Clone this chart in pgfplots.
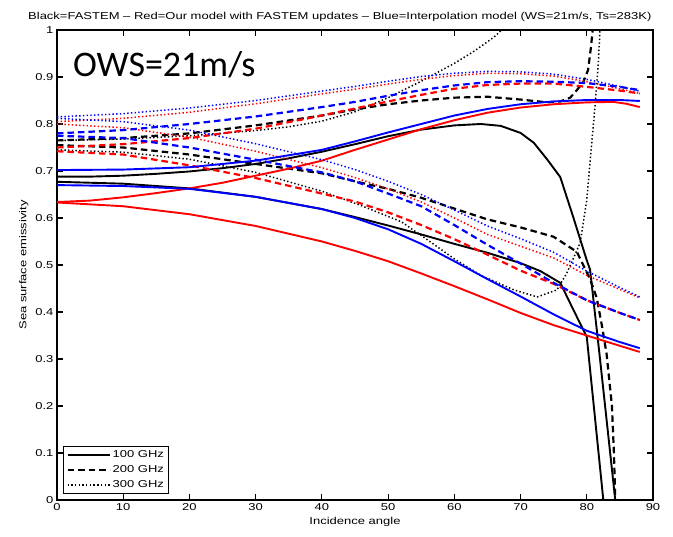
\documentclass[border=0pt]{standalone}
\usepackage{fontspec}
\setmainfont{Liberation Sans}[FakeStretch=1.3]
\newfontfamily\owsfont{Carlito}
\usepackage{pgfplots}
\pgfplotsset{compat=1.18}

\pgfplotsset{
  ghz100/.style={line width=1.9pt, solid},
  ghz200/.style={line width=2.2pt, dash pattern=on 6.5pt off 4pt},
  ghz300/.style={line width=1.5pt, dash pattern=on 1.4pt off 2.3pt},
}

\begin{document}
\begin{tikzpicture}
\begin{axis}[
  width=596pt, height=470pt, scale only axis,
  xmin=0, xmax=90, ymin=0, ymax=1,
  xtick={0,10,20,30,40,50,60,70,80,90},
  ytick={0,0.1,0.2,0.3,0.4,0.5,0.6,0.7,0.8,0.9,1},
  tick align=inside, major tick length=6pt,
  axis line style={line width=1.3pt},
  every tick/.style={black, line width=1.1pt},
  /pgf/number format/assume math mode=true,
  ticklabel style={font=\fontsize{10}{12}\selectfont},
  xlabel={Incidence angle}, ylabel={Sea surface emissivity},
  label style={font=\fontsize{10}{12}\selectfont},
  legend image code/.code={\draw[#1] (0pt,0pt) -- (42pt,0pt);},
  legend style={at={(0.01,0.013)}, anchor=south west, draw=black,
    line width=1pt, font=\fontsize{10}{11}\selectfont,
    cells={anchor=west}, inner xsep=3pt, inner ysep=2pt, row sep=2.5pt},
]
\addlegendimage{black, ghz100}\addlegendentry{100 GHz}
\addlegendimage{black, ghz200}\addlegendentry{200 GHz}
\addlegendimage{black, ghz300}\addlegendentry{300 GHz}

% ---------------- FASTEM (black) ----------------
\addplot[black, ghz100, forget plot] coordinates {(0,0.688) (5,0.688) (10,0.690) (15,0.694) (20,0.699) (25,0.706) (30,0.715) (35,0.727) (40,0.741) (45,0.757) (50,0.774) (55,0.788) (60,0.797) (64,0.800) (67,0.796) (70,0.781) (72,0.760) (74,0.725) (76,0.687) (78,0.600) (80,0.510) (80.5,0.490) (82,0.300) (84.3,0.0)};
\addplot[black, ghz100, forget plot] coordinates {(0,0.677) (10,0.673) (20,0.663) (30,0.645) (40,0.619) (45,0.602) (50,0.584) (55,0.565) (60,0.545) (65,0.526) (70,0.504) (73,0.487) (76,0.462) (78,0.404) (80,0.347) (82.5,0.0)};
\addplot[black, ghz200, forget plot] coordinates {(0,0.765) (10,0.770) (20,0.780) (30,0.797) (40,0.818) (45,0.831) (50,0.842) (55,0.850) (60,0.856) (65,0.858) (70,0.852) (74,0.846) (76,0.848) (77.5,0.856) (78.5,0.872) (79.5,0.890) (80.2,0.915) (80.6,0.960) (80.9,1.000) (81.1,1.040)};
\addplot[black, ghz200, forget plot] coordinates {(0,0.755) (10,0.750) (20,0.735) (30,0.715) (40,0.695) (45,0.678) (50,0.662) (55,0.643) (60,0.620) (65,0.597) (70,0.580) (75,0.560) (78.5,0.528) (80.5,0.470) (81.5,0.430) (82.3,0.370) (83,0.310) (83.8,0.200) (84.1,0.100) (84.3,0.0)};
\addplot[black, ghz300, forget plot] coordinates {(0,0.765) (10,0.768) (20,0.775) (30,0.786) (35,0.794) (40,0.806) (45,0.826) (50,0.856) (55,0.891) (60,0.929) (63,0.955) (66,0.985) (67,0.998) (68,1.012)};
\addplot[black, ghz300, forget plot] coordinates {(0,0.745) (10,0.740) (20,0.725) (30,0.697) (40,0.657) (46,0.626) (52,0.592) (56,0.553) (60,0.513) (64,0.478) (69,0.447) (72.5,0.432) (75.5,0.447) (77,0.483) (79,0.547) (80,0.638) (80.5,0.720) (81.2,0.830) (81.7,0.920) (82,1.000) (82.2,1.050)};

% ---------------- model with FASTEM updates (red) ----------------
\addplot[red, ghz100, forget plot] coordinates {(0,0.634) (5,0.637) (10,0.644) (15,0.653) (20,0.663) (25,0.675) (30,0.690) (35,0.705) (40,0.722) (45,0.745) (50,0.767) (55,0.789) (60,0.808) (65,0.824) (70,0.835) (75,0.842) (80,0.846) (84,0.847) (86,0.843) (88,0.836)};
\addplot[red, ghz100, forget plot] coordinates {(0,0.633) (10,0.625) (20,0.608) (30,0.583) (40,0.550) (45,0.530) (50,0.508) (55,0.482) (60,0.455) (65,0.427) (70,0.398) (75,0.372) (80,0.350) (85,0.328) (88,0.315)};
\addplot[red, ghz200, forget plot] coordinates {(0,0.750) (10,0.757) (20,0.770) (30,0.790) (40,0.818) (45,0.833) (50,0.848) (55,0.862) (60,0.875) (65,0.883) (70,0.886) (75,0.886) (80,0.879) (85,0.871) (88,0.865)};
\addplot[red, ghz200, forget plot] coordinates {(0,0.742) (10,0.735) (20,0.712) (30,0.685) (40,0.652) (45,0.635) (50,0.612) (55,0.585) (60,0.555) (65,0.522) (70,0.488) (75,0.460) (80,0.425) (85,0.398) (88,0.383)};
\addplot[red, ghz300, forget plot] coordinates {(0,0.805) (10,0.812) (20,0.825) (30,0.843) (40,0.864) (45,0.874) (50,0.885) (55,0.895) (60,0.903) (65,0.908) (70,0.907) (75,0.902) (80,0.890) (85,0.875) (88,0.865)};
\addplot[red, ghz300, forget plot] coordinates {(0,0.800) (10,0.792) (20,0.772) (30,0.742) (40,0.707) (45,0.686) (50,0.662) (55,0.634) (60,0.600) (65,0.565) (70,0.540) (75,0.515) (80,0.478) (85,0.448) (88,0.430)};

% ---------------- interpolation model (blue) ----------------
\addplot[blue, ghz100, forget plot] coordinates {(0,0.702) (10,0.703) (20,0.708) (30,0.722) (40,0.745) (45,0.763) (50,0.782) (55,0.800) (60,0.818) (65,0.832) (70,0.842) (75,0.848) (80,0.851) (85,0.851) (88,0.849)};
\addplot[blue, ghz100, forget plot] coordinates {(0,0.670) (10,0.668) (20,0.662) (30,0.645) (40,0.619) (45,0.600) (50,0.576) (55,0.545) (60,0.508) (65,0.470) (70,0.433) (75,0.395) (80,0.360) (85,0.336) (88,0.323)};
\addplot[blue, ghz200, forget plot] coordinates {(0,0.780) (10,0.787) (20,0.800) (30,0.816) (40,0.836) (45,0.847) (50,0.860) (55,0.872) (60,0.882) (65,0.889) (70,0.891) (75,0.890) (80,0.887) (85,0.879) (88,0.872)};
\addplot[blue, ghz200, forget plot] coordinates {(0,0.775) (10,0.770) (20,0.750) (30,0.724) (40,0.697) (45,0.678) (50,0.652) (55,0.625) (60,0.585) (65,0.543) (70,0.503) (75,0.462) (80,0.425) (85,0.398) (88,0.383)};
\addplot[blue, ghz300, forget plot] coordinates {(0,0.815) (10,0.822) (20,0.834) (30,0.850) (40,0.870) (45,0.880) (50,0.891) (55,0.901) (60,0.908) (65,0.912) (70,0.911) (75,0.906) (80,0.895) (85,0.880) (88,0.870)};
\addplot[blue, ghz300, forget plot] coordinates {(0,0.812) (10,0.805) (20,0.787) (30,0.758) (40,0.724) (45,0.703) (50,0.678) (55,0.650) (60,0.617) (65,0.583) (70,0.556) (75,0.527) (80,0.487) (85,0.452) (88,0.432)};
\end{axis}

\node[anchor=base west, font=\fontsize{10}{12}\selectfont, inner sep=0pt] at (-29pt,480pt)
  {Black=FASTEM -- Red=Our model with FASTEM updates -- Blue=Interpolation model (WS=21m/s, Ts=283K)};
\node[anchor=base west, font=\owsfont\fontsize{36}{40}\selectfont, inner sep=0pt] at (16pt,423pt) {OWS=21m/s};

\pgfresetboundingbox
\useasboundingbox (-57pt,-37pt) rectangle (616pt,500pt);
\end{tikzpicture}
\end{document}
